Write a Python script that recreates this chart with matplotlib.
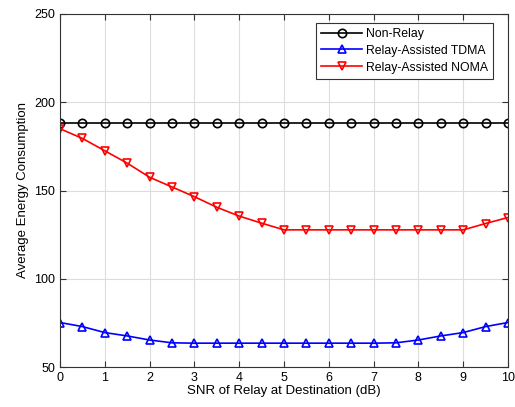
import numpy as np
import matplotlib.pyplot as plt

plt.rcParams['font.family'] = ['Liberation Sans', 'DejaVu Sans']

snr = np.arange(0, 10.5, 0.5)
non_relay = [188.5] * 21
tdma = [75.2, 72.9, 69.5, 67.6, 65.3, 63.7, 63.5, 63.5, 63.5, 63.5, 63.5,
        63.5, 63.5, 63.5, 63.5, 63.7, 65.3, 67.6, 69.5, 72.9, 75.2]
noma = [185, 179.5, 172.5, 165.5, 157.5, 152, 146.5, 140.5, 135.5, 131.5, 127.7,
        127.7, 127.7, 127.7, 127.7, 127.7, 127.7, 127.7, 127.7, 131.3, 134.7]

fig = plt.figure(figsize=(5.15, 4.07), dpi=100)
ax = fig.add_axes([60/515, 40/407, 448/515, 353/407])

ax.plot(snr, non_relay, '-o', color='black', lw=1.2, ms=6, mfc='none', mew=1.2, label='Non-Relay')
ax.plot(snr, tdma, '-^', color='blue', lw=1.2, ms=6, mfc='none', mew=1.2, label='Relay-Assisted TDMA')
ax.plot(snr, noma, '-v', color='red', lw=1.2, ms=6, mfc='none', mew=1.2, label='Relay-Assisted NOMA')

ax.set_xlim(0, 10)
ax.set_ylim(50, 250)
ax.set_xticks(np.arange(0, 11, 1))
ax.set_yticks(np.arange(50, 251, 50))
ax.grid(True, color='#dddddd', lw=0.8)
ax.set_axisbelow(True)
ax.tick_params(direction='in', top=True, right=True, labelsize=9, length=4, color='#333333')
for s in ax.spines.values():
    s.set_color('#333333')
    s.set_linewidth(0.8)

ax.set_xlabel('SNR of Relay at Destination (dB)', fontsize=9.5, labelpad=1)
ax.set_ylabel('Average Energy Consumption', fontsize=9.5, labelpad=4)

leg = ax.legend(loc='upper right', bbox_to_anchor=(493/515, 1 - 23/407), bbox_transform=fig.transFigure,
                fontsize=8.8, fancybox=False, edgecolor='#333333', framealpha=1, borderaxespad=0,
                handlelength=3.4, labelspacing=0.4, borderpad=0.4, handletextpad=0.3)
leg.get_frame().set_linewidth(0.8)

plt.savefig('out.png', dpi=100)
